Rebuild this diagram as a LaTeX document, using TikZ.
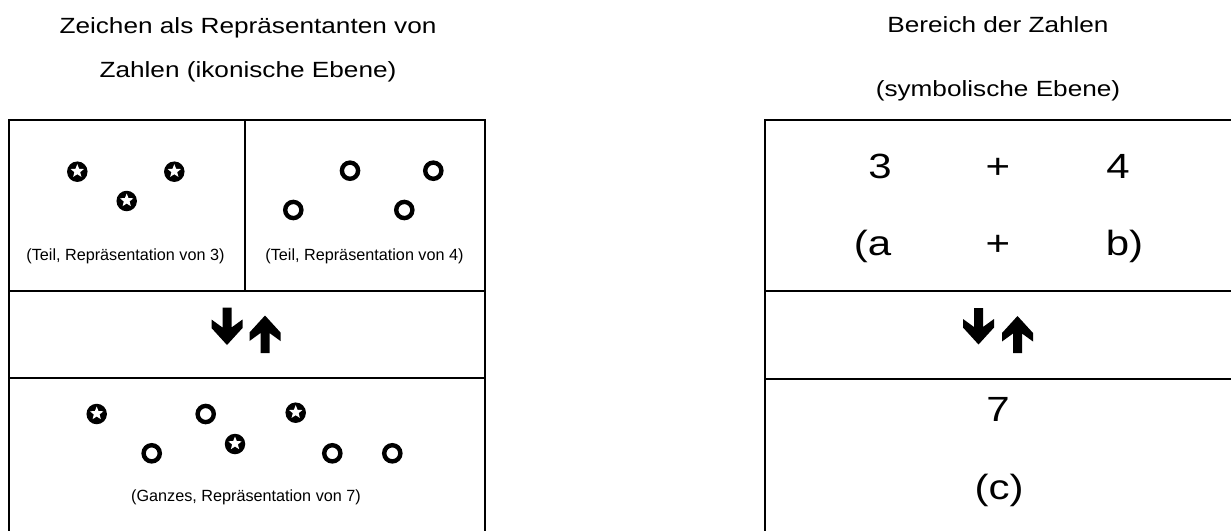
\documentclass[tikz,border=0pt]{standalone}
\usepackage{graphicx}
\usepackage{fontspec}
\setmainfont{Liberation Sans}
\usetikzlibrary{shapes.geometric}
\tikzset{
  frame/.style={line width=2pt, line join=miter},
  titletxt/.style={anchor=base, inner sep=0pt},
  captxt/.style={anchor=base, inner sep=0pt, font=\fontsize{16.2}{19}\selectfont},
  bignum/.style={anchor=base, inner sep=0pt},
  ring/.style={circle, draw=black, line width=4.4pt, minimum size=16.2pt, inner sep=0pt},
  cstar/.style={circle, fill=black, minimum size=20.5pt, inner sep=0pt},
  wstar/.style={star, star points=5, star point ratio=2.3, fill=white, minimum size=14pt, inner sep=0pt},
  arr/.style={fill=black}
}
\newcommand{\TitleTxt}[1]{\fontsize{22}{26}\selectfont\scalebox{1.19}[1]{#1}}
\newcommand{\NumTxt}[1]{\fontsize{35}{40}\selectfont\scalebox{1.2}[1]{#1}}
% down arrow: center x, tip y (pointing down), top y
\newcommand{\DnArrow}[3]{%
  \fill[arr] (#1-4.5,#3) -- (#1+4.5,#3) -- (#1+4.5,#2-17.5) -- (#1+15.5,#2-25.5)
    -- (#1+15.5,#2-17) -- (#1,#2) -- (#1-15.5,#2-17) -- (#1-15.5,#2-25.5)
    -- (#1-4.5,#2-17.5) -- cycle;}
% up arrow: center x, tip y (pointing up), bottom y
\newcommand{\UpArrow}[3]{%
  \fill[arr] (#1-4.5,#3) -- (#1+4.5,#3) -- (#1+4.5,#2+17.5) -- (#1+15.5,#2+25.5)
    -- (#1+15.5,#2+17) -- (#1,#2) -- (#1-15.5,#2+17) -- (#1-15.5,#2+25.5)
    -- (#1-4.5,#2+17.5) -- cycle;}
\newcommand{\CStar}[3]{\node[cstar] (#1) at (#2,#3) {}; \node[wstar] (#1w) at (#2,#3-0.5) {};}
\begin{document}
\begin{tikzpicture}[x=1pt, y=-1pt]
\useasboundingbox (0,0) rectangle (1231,530);

% titles
\node[titletxt] (tl1) at (248,33) {\TitleTxt{Zeichen als Repräsentanten von}};
\node[titletxt] (tl2) at (248,77) {\TitleTxt{Zahlen (ikonische Ebene)}};
\node[titletxt] (tr1) at (998,32) {\TitleTxt{Bereich der Zahlen}};
\node[titletxt] (tr2) at (998,96) {\TitleTxt{(symbolische Ebene)}};

% left frame
\draw[frame] (9,535) -- (9,120) -- (485,120) -- (485,535);
\draw[frame] (245,120) -- (245,291);
\draw[frame] (9,291) -- (485,291);
\draw[frame] (9,378) -- (485,378);

% right frame
\draw[frame] (765,535) -- (765,120) -- (1236,120);
\draw[frame] (765,291) -- (1236,291);
\draw[frame] (765,379) -- (1236,379);

% left top cells
\CStar{a1}{77.3}{171.7}
\CStar{a2}{174.3}{171.7}
\CStar{a3}{126.7}{201}
\node[ring] (b1) at (350,170.7) {};
\node[ring] (b2) at (433.3,170.7) {};
\node[ring] (b3) at (293.3,210) {};
\node[ring] (b4) at (404.3,210) {};
\node[captxt] (c1) at (125.5,260.5) {(Teil, Repräsentation von 3)};
\node[captxt] (c2) at (364.5,260.5) {(Teil, Repräsentation von 4)};

% arrows
\DnArrow{227}{345}{307.5}
\UpArrow{265}{315.5}{353}
\DnArrow{978.5}{344.5}{308}
\UpArrow{1017.5}{316}{353}

% left bottom cell
\CStar{d1}{96.7}{414}
\CStar{d2}{295.7}{412.7}
\CStar{d3}{235}{444}
\node[ring] (e1) at (205.7,414) {};
\node[ring] (e2) at (151.7,453.3) {};
\node[ring] (e3) at (332.3,453.3) {};
\node[ring] (e4) at (392.3,453.3) {};
\node[captxt] (c3) at (246,501.5) {(Ganzes, Repräsentation von 7)};

% right cells
\node[bignum] (n3) at (880,178.3) {\NumTxt{3}};
\node[bignum] (np1) at (998,178.3) {\NumTxt{+}};
\node[bignum] (n4) at (1118,178.3) {\NumTxt{4}};
\node[bignum] (na) at (872.5,255) {\NumTxt{(a}};
\node[bignum] (np2) at (998,255) {\NumTxt{+}};
\node[bignum] (nb) at (1124.5,255) {\NumTxt{b)}};
\node[bignum] (n7) at (998,421.7) {\NumTxt{7}};
\node[bignum] (nc) at (999,499) {\NumTxt{(c)}};
\end{tikzpicture}
\end{document}
